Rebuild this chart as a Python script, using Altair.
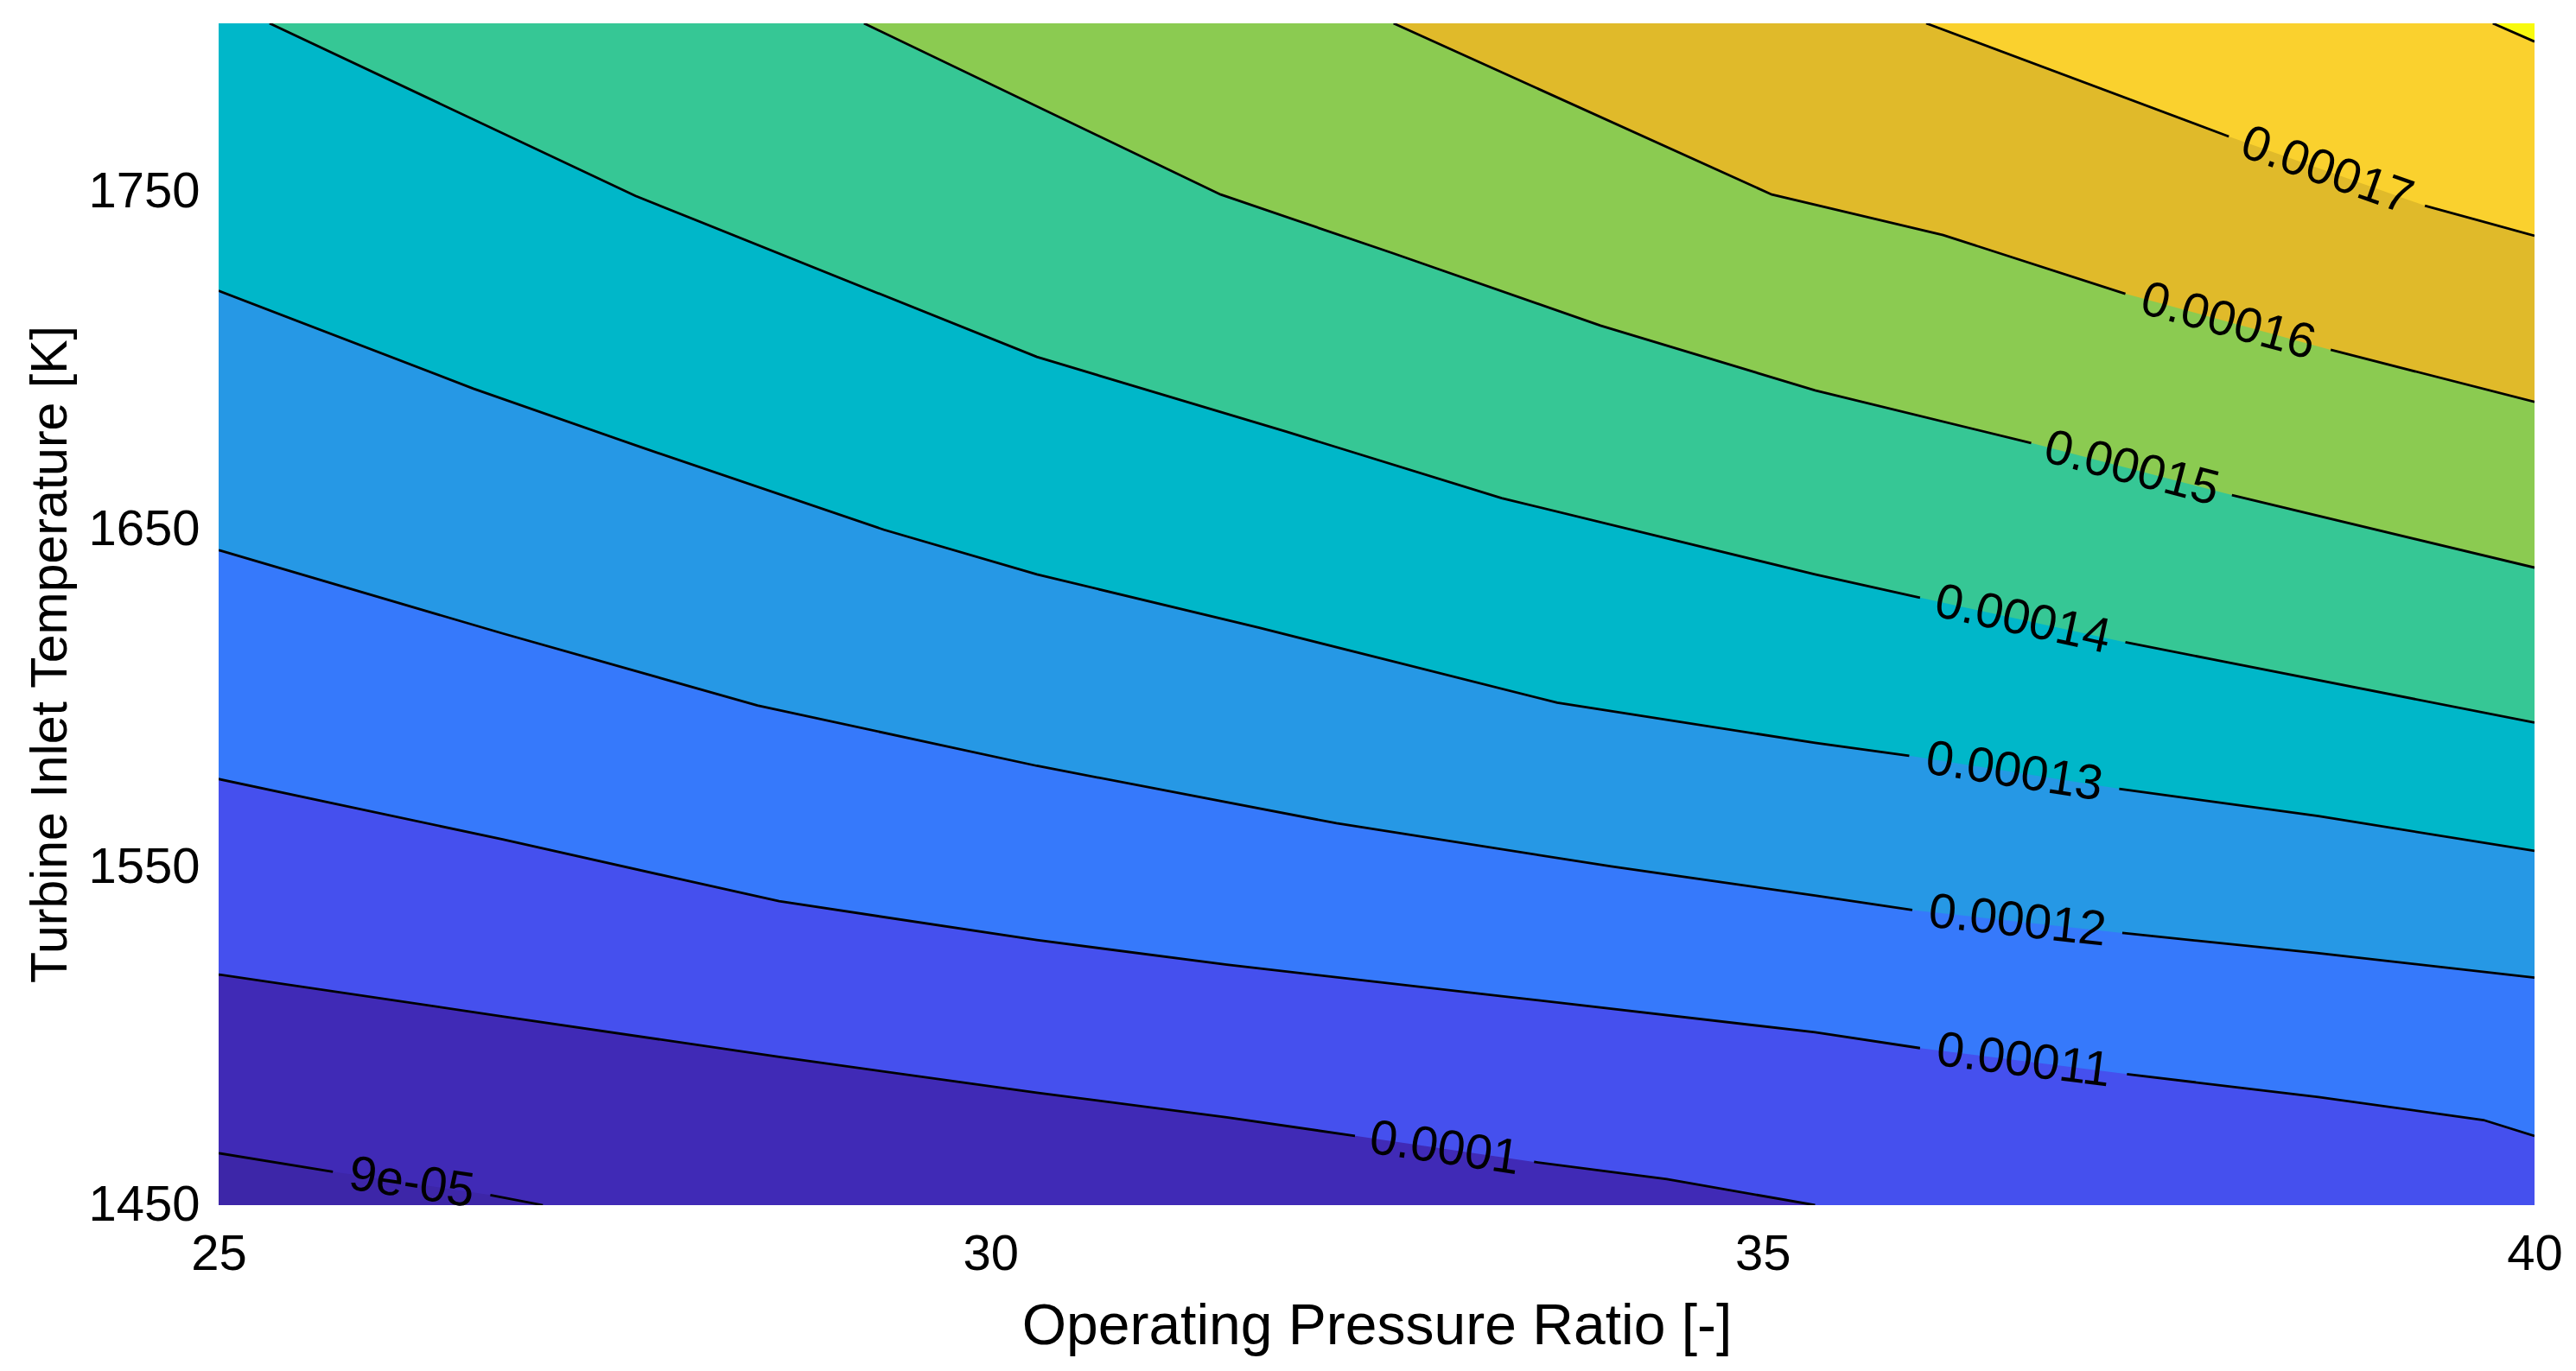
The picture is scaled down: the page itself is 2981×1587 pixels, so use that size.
import math
import altair as alt
import pandas as pd

# ---------------- data ----------------
X_TICKS = [25, 30, 35, 40]
Y_TICKS = [1450, 1550, 1650, 1750]
X_DOMAIN = [25, 40]
Y_DOMAIN = [1450, 1800]

LEVELS = [9e-05, 1e-04, 1.1e-04, 1.2e-04, 1.3e-04, 1.4e-04, 1.5e-04, 1.6e-04, 1.7e-04, 1.8e-04]
LEVEL_TEXT = ["9e-05", "0.0001", "0.00011", "0.00012", "0.00013", "0.00014",
              "0.00015", "0.00016", "0.00017", ""]

# contour polylines (x = pressure ratio, y = turbine inlet temperature)
c090_x = [25.00, 25.74, 26.76, 27.10]
c090_y = [1465.4, 1459.9, 1453.0, 1450.0]
c100_x = [25.00, 26.84, 28.63, 30.30, 31.53, 32.36, 33.52, 34.38, 35.34]
c100_y = [1518.3, 1505.9, 1493.9, 1483.3, 1476.0, 1470.5, 1462.8, 1457.7, 1450.0]
c110_x = [25.00, 26.84, 28.63, 30.30, 31.53, 33.31, 35.34, 36.02, 37.36, 38.60, 39.67, 40.00]
c110_y = [1576.2, 1558.3, 1540.0, 1528.5, 1521.2, 1511.9, 1501.2, 1496.5, 1488.8, 1482.0, 1475.2, 1470.5]
c120_x = [25.00, 26.84, 28.49, 30.30, 32.24, 34.02, 35.34, 35.97, 37.33, 38.59, 40.00]
c120_y = [1644.0, 1619.3, 1598.0, 1580.1, 1563.1, 1550.3, 1541.7, 1537.4, 1530.6, 1524.7, 1517.4]
c130_x = [25.00, 26.65, 27.74, 29.31, 30.30, 31.74, 33.67, 35.34, 35.95, 37.31, 38.60, 40.00]
c130_y = [1720.8, 1691.8, 1674.4, 1650.0, 1636.8, 1621.0, 1598.8, 1586.9, 1583.1, 1573.3, 1565.2, 1554.9]
c140_x = [25.33, 27.70, 30.30, 31.92, 33.31, 35.34, 36.02, 37.35, 40.00]
c140_y = [1800.0, 1748.9, 1701.2, 1679.0, 1659.4, 1636.8, 1629.9, 1616.7, 1592.9]
c150_x = [29.18, 31.49, 32.60, 33.95, 35.34, 36.74, 38.04, 40.00]
c150_y = [1800.0, 1749.3, 1732.0, 1710.5, 1691.3, 1675.7, 1660.3, 1638.8]
c160_x = [32.61, 35.06, 36.17, 37.35, 38.68, 40.00]
c160_y = [1800.0, 1749.3, 1737.3, 1719.9, 1703.3, 1687.9]
c170_x = [36.06, 38.02, 39.29, 40.00]
c170_y = [1800.0, 1766.5, 1746.0, 1737.1]
c180_x = [39.73, 40.00]
c180_y = [1800.0, 1794.6]

# index of the polyline segment interrupted by the inline label (None = no label)
LABEL_GAP = [1, 5, 7, 7, 8, 6, 5, 3, 1, None]

CONTOURS_X = [c090_x, c100_x, c110_x, c120_x, c130_x, c140_x, c150_x, c160_x, c170_x, c180_x]
CONTOURS_Y = [c090_y, c100_y, c110_y, c120_y, c130_y, c140_y, c150_y, c160_y, c170_y, c180_y]

# parula-like band colours: below first level, then above each level
BAND_COLORS = ["#3D26A8", "#402AB6", "#4550EE", "#3679FB", "#2698E5", "#00B7C9",
               "#36C795", "#8BCB51", "#E0BA2A", "#FAD12E", "#F8FA0E"]

# ---------------- layout ----------------
W, H = 2680, 1368
FONT = "Liberation Sans"
px_x = W / (X_DOMAIN[1] - X_DOMAIN[0])
px_y = H / (Y_DOMAIN[1] - Y_DOMAIN[0])

fill_frames, line_rows, label_rows = [], [], []
for k, (xs, ys) in enumerate(zip(CONTOURS_X, CONTOURS_Y)):
    gap = LABEL_GAP[k]
    rows = []
    for i, (x, y) in enumerate(zip(xs, ys)):
        rows.append({"x": x, "y": y, "top": Y_DOMAIN[1]})
        part = "a" if (gap is None or i <= gap) else "b"
        line_rows.append({"seg": f"{k}{part}", "x": x, "y": y, "idx": i})
    # contour leaves through the bottom edge: region above also covers the rest
    if ys[-1] == Y_DOMAIN[0] and xs[-1] < X_DOMAIN[1]:
        rows.append({"x": X_DOMAIN[1], "y": Y_DOMAIN[0], "top": Y_DOMAIN[1]})
    fill_frames.append(pd.DataFrame(rows))
    if gap is not None:
        x0, y0, x1, y1 = xs[gap], ys[gap], xs[gap + 1], ys[gap + 1]
        ang = math.degrees(math.atan2((y0 - y1) * px_y, (x1 - x0) * px_x))
        label_rows.append({"x": (x0 + x1) / 2, "y": (y0 + y1) / 2,
                           "text": LEVEL_TEXT[k], "ang": ang})

line_df = pd.DataFrame(line_rows)
label_df = pd.DataFrame(label_rows)
base_df = pd.DataFrame({"x": [X_DOMAIN[0], X_DOMAIN[1]], "y": [Y_DOMAIN[0], Y_DOMAIN[0]],
                        "top": [Y_DOMAIN[1], Y_DOMAIN[1]]})

x_axis = alt.Axis(values=X_TICKS, labelFontSize=58, labelFont=FONT, labelColor="black",
                  labelPadding=28, labelFlush=False, labelOverlap=False, ticks=False, tickSize=0,
                  domain=False, grid=False, title="Operating Pressure Ratio [-]",
                  titleFont=FONT, titleFontSize=66, titleFontWeight="normal",
                  titleColor="black", titlePadding=22)
y_axis = alt.Axis(values=Y_TICKS, format="d", labelFontSize=58, labelFont=FONT,
                  labelColor="black", labelPadding=22, labelFlush=False, labelOverlap=False,
                  ticks=False, tickSize=0, domain=False, grid=False,
                  title="Turbine Inlet Temperature [K]",
                  titleFont=FONT, titleFontSize=59, titleFontWeight="normal",
                  titleColor="black", titlePadding=13, titleY=730)

xs_scale = alt.Scale(domain=X_DOMAIN, nice=False, zero=False)
ys_scale = alt.Scale(domain=Y_DOMAIN, nice=False, zero=False)
X = alt.X("x:Q", scale=xs_scale, axis=x_axis)
Y = alt.Y("y:Q", scale=ys_scale, axis=y_axis)


def band(df, color):
    return (
        alt.Chart(df)
        .mark_area(color=color, fill=color, opacity=1, fillOpacity=1, clip=True)
        .encode(x=X, y=Y, y2="top:Q")
    )


layers = [band(base_df, BAND_COLORS[0])]
for k, df in enumerate(fill_frames):
    layers.append(band(df, BAND_COLORS[k + 1]))

lines = (
    alt.Chart(line_df)
    .mark_line(color="black", strokeWidth=2.8, clip=True)
    .encode(x=X, y=Y, detail="seg:N", order=alt.Order("idx:Q"))
)

labels = (
    alt.Chart(label_df)
    .mark_text(font=FONT, fontSize=57, color="black", align="center", baseline="middle")
    .encode(x=X, y=Y, text="text:N", angle=alt.Angle("ang:Q", scale=None))
)

chart = (
    alt.layer(*layers, lines, labels)
    .properties(width=W, height=H, autosize=alt.AutoSizeParams(type="none"),
                padding={"left": 245, "top": 19, "right": 40, "bottom": 185},
                background="white")
    .configure_view(strokeWidth=0)
)

chart.save("out.html", embed_options={"renderer": "svg", "actions": False})
